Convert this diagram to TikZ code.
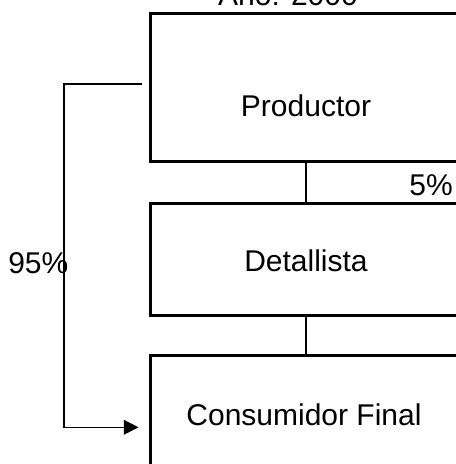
\documentclass[tikz,border=0pt]{standalone}
\usepackage{fontspec}
\setmainfont{Liberation Sans}
\usepackage{tikz}
\usetikzlibrary{arrows.meta}

\begin{document}
\begin{tikzpicture}[x=0.75pt,y=-0.75pt,
        box/.style={draw,line width=2.25pt,inner sep=0pt},
        txt/.style={inner sep=0pt,anchor=base,font=\fontsize{22.5pt}{27pt}\selectfont},
        link/.style={line width=1.5pt},
        flow/.style={line width=1.2pt,-{Triangle[length=11pt,width=11pt]}}]
        \useasboundingbox (0,0) rectangle (456,464);
        \clip (0,0) rectangle (456,464);
        \node[txt] (title) at (288,5.5) {Año: 2000};
        \node[box,minimum width=234pt,minimum height=110.4pt] (prod) at (306,87.4) {};
        \node[box,minimum width=234pt,minimum height=83.8pt] (det) at (306,259.2) {};
        \node[box,minimum width=234pt,minimum height=93.75pt] (cons) at (306,417.5) {};
        \node[txt] (prodtxt) at (306,116.5) {Productor};
        \node[txt] (dettxt) at (306,271.5) {Detallista};
        \node[txt] (constxt) at (304,425) {Consumidor Final};
        \node[txt,anchor=base east] (pct5) at (453,195) {5\%};
        \node[txt,anchor=base west] (pct95) at (8,273) {95\%};
        \draw[link] (prod.south) -- (det.north);
        \draw[link] (det.south) -- (cons.north);
        \coordinate (fromP) at (141.5,84);
        \coordinate (toC) at (138.5,427.3);
        \draw[flow] (fromP) -| (63.7,427.3) -- (toC);
        \end{tikzpicture}
\end{document}
